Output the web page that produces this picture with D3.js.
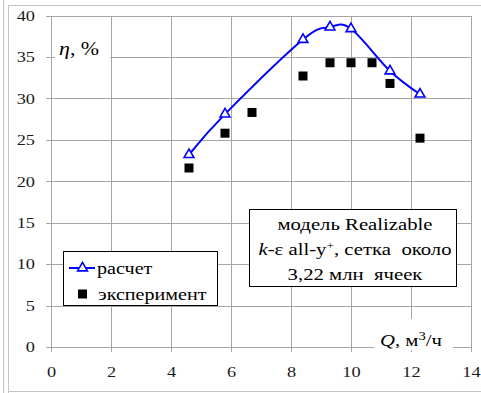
<!DOCTYPE html>
<html>
<head>
<meta charset="utf-8">
<script src="https://cdn.jsdelivr.net/npm/d3@7"></script>
<style>
  body { margin: 0; background: #fff; }
  svg text { font-family: "Liberation Serif", "Times New Roman", serif !important; }
</style>
</head>
<body>
<div id="chart"></div>
<script>
// calculated efficiency (Realizable k-e model)
const calcQ = [4.6, 5.8, 8.4, 9.3, 10.0, 11.3, 12.3];
const calcEta = [23.2, 28.1, 37.1, 38.6, 38.4, 33.3, 30.5];
// experiment
const expQ = [4.6, 5.8, 6.7, 8.4, 9.3, 10.0, 10.7, 11.3, 12.3];
const expEta = [21.6, 25.8, 28.3, 32.7, 34.3, 34.3, 34.3, 31.8, 25.2];

const xTicks = [0, 2, 4, 6, 8, 10, 12, 14];
const yTicks = [0, 5, 10, 15, 20, 25, 30, 35, 40];
const legendLabels = ['расчет', 'эксперимент'];

const width = 481, height = 393;
const margin = { top: 15.5, right: 10, bottom: 46, left: 51 };
const sx = 1.22; // the source picture is stretched horizontally
const gridColor = '#a6a6a6';
const serif = '"Liberation Serif", "Times New Roman", serif';

const svg = d3.select('#chart').append('svg')
  .attr('width', width)
  .attr('height', height)
  .attr('font-family', serif);

const x = d3.scaleLinear().domain([0, 14]).range([margin.left, width - margin.right]);
const y = d3.scaleLinear().domain([0, 40]).range([height - margin.bottom, margin.top]);

// outer frame
const frame = svg.append('g').attr('stroke', '#c4c4c4').attr('stroke-width', 1);
frame.append('line').attr('x1', 3.5).attr('x2', 3.5).attr('y1', 0).attr('y2', height);
frame.append('line').attr('x1', 8.5).attr('x2', 8.5).attr('y1', 5).attr('y2', height);
frame.append('line').attr('x1', 8.5).attr('x2', width).attr('y1', 5.5).attr('y2', 5.5);
frame.append('line').attr('x1', 8.5).attr('x2', width).attr('y1', 391.5).attr('y2', 391.5);

// grid + axes
const yAxis = d3.axisLeft(y).tickValues(yTicks).tickSize(x.range()[1] - x.range()[0] + 5).tickSizeOuter(0);
const yg = svg.append('g')
  .attr('transform', `translate(${x.range()[1]},0)`)
  .call(yAxis)
  .attr('font-family', serif)
  .attr('font-size', 15);
yg.select('.domain').remove();
yg.selectAll('.tick line').attr('stroke', gridColor).attr('shape-rendering', 'crispEdges');
yg.selectAll('.tick text')
  .attr('x', -(x.range()[1] - 35) / sx)
  .attr('transform', `scale(${sx},1)`)
  .attr('fill', '#1a1a1a');

const xAxis = d3.axisBottom(x).tickValues(xTicks).tickSize(y.range()[0] - y.range()[1] + 5).tickSizeOuter(0);
const xg = svg.append('g')
  .attr('transform', `translate(0,${y.range()[1]})`)
  .call(xAxis)
  .attr('font-family', serif)
  .attr('font-size', 15);
xg.select('.domain').remove();
xg.selectAll('.tick line').attr('stroke', gridColor).attr('shape-rendering', 'crispEdges');
xg.selectAll('.tick text')
  .attr('y', 366 - y.range()[1])
  .attr('x', 0)
  .attr('transform', `scale(${sx},1)`)
  .attr('fill', '#1a1a1a');

// white masks behind axis titles
svg.append('rect').attr('x', 55).attr('y', 38).attr('width', 55).attr('height', 25).attr('fill', '#fff');
svg.append('rect').attr('x', 374).attr('y', 319).attr('width', 79).attr('height', 31).attr('fill', '#fff');

function stretched(px, py) {
  return svg.append('g').attr('transform', `translate(${px},${py}) scale(${sx},1)`);
}

// axis titles
stretched(59, 55).append('text')
  .attr('font-size', 18)
  .call(t => {
    t.append('tspan').attr('font-style', 'italic').text('η');
    t.append('tspan').text(', %');
  });

stretched(380, 346).append('text')
  .attr('font-size', 17)
  .call(t => {
    t.append('tspan').attr('font-style', 'italic').text('Q');
    t.append('tspan').text(', м');
    t.append('tspan').attr('dy', -6).attr('font-size', 12).text('3');
    t.append('tspan').attr('dy', 6).text('/ч');
  });

// calculated curve
const calcData = calcQ.map((q, i) => ({ q, eta: calcEta[i] }));
const expData = expQ.map((q, i) => ({ q, eta: expEta[i] }));

const line = d3.line()
  .x(d => x(d.q))
  .y(d => y(d.eta))
  .curve(d3.curveCatmullRom.alpha(0));

svg.append('path')
  .datum(calcData)
  .attr('fill', 'none')
  .attr('stroke', '#0000ff')
  .attr('stroke-width', 2)
  .attr('d', line);

const tri = d3.symbol().type(d3.symbolTriangle).size(42);
const sq = d3.symbol().type(d3.symbolSquare).size(81);

svg.selectAll('.exp')
  .data(expData)
  .enter().append('path')
  .attr('class', 'exp')
  .attr('transform', d => `translate(${x(d.q)},${y(d.eta)})`)
  .attr('d', sq)
  .attr('fill', '#000');

svg.selectAll('.calc')
  .data(calcData)
  .enter().append('path')
  .attr('class', 'calc')
  .attr('transform', d => `translate(${x(d.q)},${y(d.eta)})`)
  .attr('d', tri)
  .attr('fill', '#fff')
  .attr('stroke', '#0000ff')
  .attr('stroke-width', 1.6);

// legend
const legend = svg.append('g');
legend.append('rect')
  .attr('x', 63.5).attr('y', 251.5).attr('width', 154).attr('height', 54)
  .attr('fill', '#fff').attr('stroke', '#000');
legend.append('line')
  .attr('x1', 69).attr('x2', 95).attr('y1', 268).attr('y2', 268)
  .attr('stroke', '#0000ff').attr('stroke-width', 2);
legend.append('path')
  .attr('transform', 'translate(82.5,268)')
  .attr('d', tri).attr('fill', '#fff').attr('stroke', '#0000ff').attr('stroke-width', 1.6);
legend.append('path')
  .attr('transform', 'translate(82.5,294)')
  .attr('d', sq).attr('fill', '#000');
stretched(97, 274).append('text').attr('font-size', 16.5).text(legendLabels[0]);
stretched(98, 300).append('text').attr('font-size', 16.5).text(legendLabels[1]);

// annotation box
svg.append('rect')
  .attr('x', 249.5).attr('y', 209.5).attr('width', 207).attr('height', 77)
  .attr('fill', '#fff').attr('stroke', '#000');
const note = stretched(355, 0).append('text')
  .attr('text-anchor', 'middle')
  .attr('font-size', 17)
  .style('white-space', 'pre');
note.append('tspan').attr('x', 0).attr('y', 230.5).text('модель Realizable');
const l2 = note.append('tspan').attr('x', 0).attr('y', 255.5);
l2.append('tspan').attr('font-style', 'italic').text('k');
l2.append('tspan').text('-ε all-y');
l2.append('tspan').attr('dy', -6).attr('font-size', 11).text('+');
l2.append('tspan').attr('dy', 6).text(', сетка  около');
note.append('tspan').attr('x', 0).attr('y', 280.5).text('3,22 млн  ячеек');
</script>
</body>
</html>
